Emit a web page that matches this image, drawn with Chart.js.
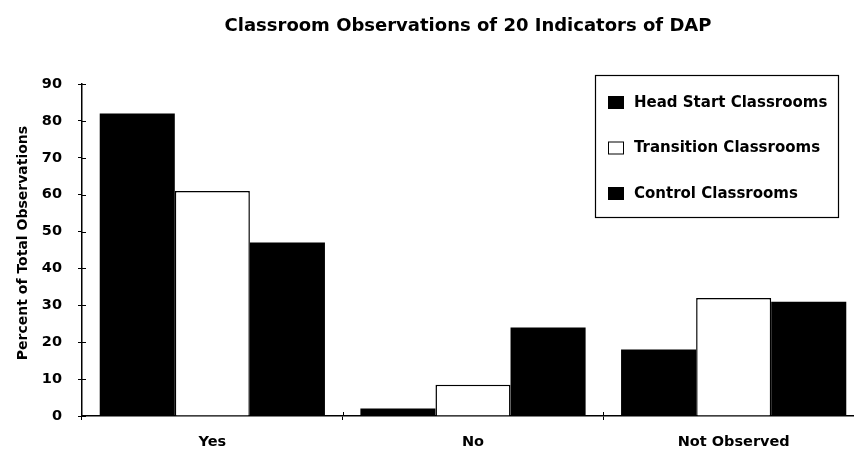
<!DOCTYPE html>
<html>
<head>
<meta charset="utf-8">
<script src="https://cdn.jsdelivr.net/npm/chart.js@4"></script>
<style>
  html, body { margin:0; padding:0; background:#fff; overflow:hidden; }
  #wrap { width:854px; height:450px; overflow:hidden; }
</style>
</head>
<body>
<!-- canvas is a little wider than the window: the original plot runs off the right edge -->
<div id="wrap"><canvas id="c" width="864" height="450"></canvas></div>
<script>
// ---------- Data ----------
const categories = ['Yes', 'No', 'Not Observed'];
const seriesNames = ['Head Start Classrooms', 'Transition Classrooms', 'Control Classrooms'];
const headStart = [82, 2, 18];
const transition = [61, 8.5, 32];
const control = [47, 24, 31];
const yTicks = [0, 10, 20, 30, 40, 50, 60, 70, 80, 90];

const titleText = 'Classroom Observations of 20 Indicators of DAP';
const yTitle = 'Percent of Total Observations';
const FONT = '"DejaVu Sans", Verdana, sans-serif';

// ---------- Plugins ----------
// title, y title, boxed legend and inner tick halves
const decor = {
  id: 'decor',
  afterDraw(chart) {
    const ctx = chart.ctx, a = chart.chartArea;
    ctx.save();
    ctx.fillStyle = '#000';
    ctx.font = 'bold 18px ' + FONT;
    ctx.textAlign = 'center';
    ctx.textBaseline = 'middle';
    ctx.fillText(titleText, 468, 26);

    ctx.font = 'bold 14px ' + FONT;
    ctx.translate(23, 243);
    ctx.rotate(-Math.PI / 2);
    ctx.fillText(yTitle, 0, 0);
    ctx.restore();

    // legend box
    ctx.save();
    const bx = 595, by = 75, bw = 243, bh = 142;
    ctx.fillStyle = '#fff';
    ctx.fillRect(bx, by, bw, bh);
    ctx.strokeStyle = '#000';
    ctx.lineWidth = 1.2;
    ctx.strokeRect(bx + 0.5, by + 0.5, bw, bh);
    ctx.font = 'bold 15px ' + FONT;
    ctx.textBaseline = 'middle';
    ctx.textAlign = 'left';
    chart.data.datasets.forEach((ds, i) => {
      const cy = by + 27 + i * 45.5;
      ctx.fillStyle = ds.backgroundColor;
      ctx.fillRect(bx + 13, cy - 6, 16, 13);
      ctx.strokeStyle = '#000';
      ctx.lineWidth = 1;
      ctx.strokeRect(bx + 13.5, cy - 5.5, 15, 12);
      ctx.fillStyle = '#000';
      ctx.fillText(ds.label, bx + 39, cy + 1);
    });
    ctx.restore();

    ctx.save();
    ctx.strokeStyle = '#000';
    ctx.lineWidth = 1;
    const ys = chart.scales.y, xs = chart.scales.x;
    yTicks.forEach(v => {
      const py = Math.round(ys.getPixelForValue(v)) + 0.5;
      ctx.beginPath(); ctx.moveTo(a.left, py); ctx.lineTo(a.left + 4, py); ctx.stroke();
    });
    for (let i = 1; i < categories.length; i++) {
      const px = Math.round((xs.getPixelForValue(i - 1) + xs.getPixelForValue(i)) / 2) + 0.5;
      ctx.beginPath(); ctx.moveTo(px, a.bottom); ctx.lineTo(px, a.bottom - 4); ctx.stroke();
    }
    ctx.restore();
  }
};

// ---------- Chart ----------
new Chart(document.getElementById('c'), {
  type: 'bar',
  data: {
    labels: categories,
    datasets: [
      { label: seriesNames[0], data: headStart, backgroundColor: '#000', borderColor: '#000', borderWidth: 0 },
      { label: seriesNames[1], data: transition, backgroundColor: '#fff', borderColor: '#000', borderWidth: 1.5 },
      { label: seriesNames[2], data: control, backgroundColor: '#000', borderColor: '#000', borderWidth: 0 }
    ]
  },
  options: {
    responsive: false,
    animation: false,
    devicePixelRatio: 1,
    layout: { padding: { top: 84, right: 0, left: 0, bottom: 0 } },
    plugins: { legend: { display: false }, title: { display: false }, tooltip: { enabled: false } },
    datasets: { bar: { categoryPercentage: 0.864, barPercentage: 1 } },
    scales: {
      x: {
        offset: true,
        grid: { offset: true, drawOnChartArea: false, color: '#000', tickLength: 4, tickColor: '#000' },
        border: { color: '#000', width: 1.5 },
        ticks: { color: '#000', font: { family: FONT, size: 14.5, weight: 'bold' }, padding: 14 },
        afterFit(s) { s.height = 34; }
      },
      y: {
        min: 0, max: 90,
        afterBuildTicks(s) { s.ticks = yTicks.map(v => ({ value: v })); },
        grid: { drawOnChartArea: false, color: '#000', tickLength: 4, tickColor: '#000' },
        border: { color: '#000', width: 1.5 },
        ticks: { color: '#000', font: { family: FONT, size: 14.5, weight: 'bold' }, padding: 16 },
        afterFit(s) { s.width = 82; }
      }
    }
  },
  plugins: [decor]
});
</script>
</body>
</html>
